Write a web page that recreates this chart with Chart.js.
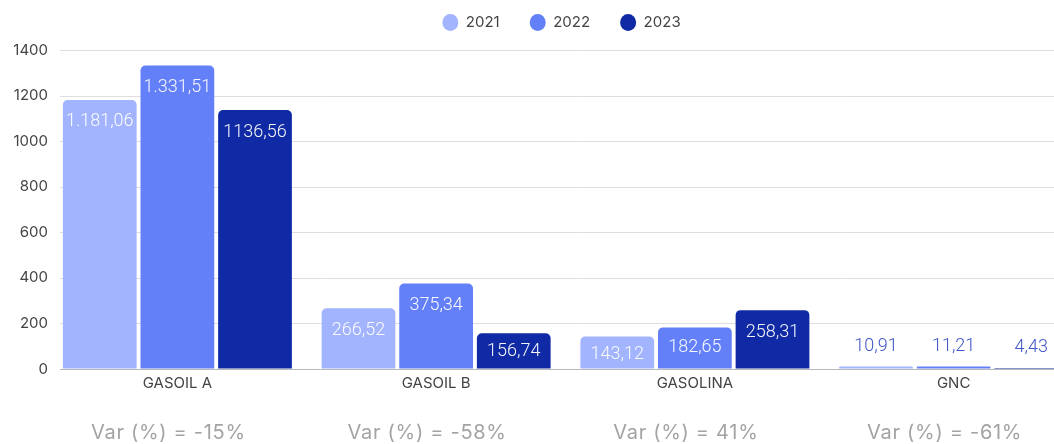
<!DOCTYPE html>
<html lang="es">
<head>
<meta charset="UTF-8" />
<title>Consumo por combustible</title>
<script src="https://cdn.jsdelivr.net/npm/chart.js"></script>
<style>
  html, body { margin: 0; padding: 0; background: #fff; overflow: hidden; }
  #wrap { width: 1100px; height: 444px; }
</style>
</head>
<body>
<div id="wrap"><canvas id="chart"></canvas></div>
<script>
// datos
const categories = ["GASOIL A", "GASOIL B", "GASOLINA", "GNC"];
const years = ["2021", "2022", "2023"];
const values2021 = [1181.06, 266.52, 143.12, 10.91];
const values2022 = [1331.51, 375.34, 182.65, 11.21];
const values2023 = [1136.56, 156.74, 258.31, 4.43];
const text2021 = ["1.181,06", "266,52", "143,12", "10,91"];
const text2022 = ["1.331,51", "375,34", "182,65", "11,21"];
const text2023 = ["1136,56", "156,74", "258,31", "4,43"];
const varLabels = ["Var (%) = -15%", "Var (%) = -58%", "Var (%) = 41%", "Var (%) = -61%"];
const yTicks = [0, 200, 400, 600, 800, 1000, 1200, 1400];

const colors = ["#a3b4fe", "#6380f9", "#0f2aa4"];
const FONT = "Inter, 'Noto Sans', sans-serif";

// a bit more room under the legend, and nudge it right
const legendTweak = {
  id: "legendTweak",
  beforeInit(chart) {
    const fit = chart.legend.fit;
    chart.legend.fit = function () {
      fit.call(this);
      this.height += 10;
    };
  },
  afterLayout(chart) {
    chart.legend.left += 20;
    chart.legend.right += 20;
  }
};

// gridlines start a bit right of the tick labels
const gridPlugin = {
  id: "grid",
  beforeDatasetsDraw(chart) {
    const { ctx, chartArea, scales } = chart;
    ctx.save();
    yTicks.forEach(v => {
      const y = Math.round(scales.y.getPixelForValue(v)) + 0.5;
      ctx.strokeStyle = v === 0 ? "#b8b8b8" : "#dedede";
      ctx.lineWidth = 1;
      ctx.beginPath();
      ctx.moveTo(60, y);
      ctx.lineTo(chartArea.right + 20, y);
      ctx.stroke();
    });
    ctx.restore();
  }
};

// value labels inside bars (or above the tiny ones)
const labelPlugin = {
  id: "valueLabels",
  afterDatasetsDraw(chart) {
    const { ctx } = chart;
    const texts = [text2021, text2022, text2023];
    ctx.save();
    ctx.font = "300 18px Roboto, " + FONT;
    ctx.textAlign = "center";
    ctx.textBaseline = "middle";
    chart.data.datasets.forEach((ds, i) => {
      chart.getDatasetMeta(i).data.forEach((bar, j) => {
        const h = bar.base - bar.y;
        if (h > 20) {
          ctx.fillStyle = "rgba(255,255,255,0.95)";
          ctx.fillText(texts[i][j], bar.x, bar.y + Math.min(22, Math.max(h / 2, 18)));
        } else {
          ctx.fillStyle = "#3f55c9";
          ctx.fillText(texts[i][j], bar.x, bar.y - 20);
        }
      });
    });
    ctx.restore();
  }
};

// variation row under the chart
const varPlugin = {
  id: "varRow",
  afterDraw(chart) {
    const { ctx, scales } = chart;
    ctx.save();
    ctx.font = "20px " + FONT;
    ctx.letterSpacing = "0.7px";
    ctx.fillStyle = "#a3a3a3";
    ctx.textAlign = "center";
    ctx.textBaseline = "middle";
    varLabels.forEach((t, i) => {
      ctx.fillText(t, scales.x.getPixelForValue(i) - 9, 433);
    });
    ctx.restore();
  }
};

new Chart(document.getElementById("chart"), {
  type: "bar",
  data: {
    labels: categories,
    datasets: years.map((y, i) => ({
      label: y,
      data: [values2021, values2022, values2023][i],
      backgroundColor: colors[i],
      borderRadius: { topLeft: 5, topRight: 5 },
      borderSkipped: "bottom",
      categoryPercentage: 0.9,
      barPercentage: 0.95
    }))
  },
  options: {
    responsive: true,
    maintainAspectRatio: false,
    animation: false,
    layout: { padding: { left: 0, right: 17, top: -15, bottom: 47 } },
    plugins: {
      legend: {
        position: "top",
        labels: {
          usePointStyle: true,
          pointStyle: "circle",
          pointStyleWidth: 16,
          boxWidth: 12,
          boxHeight: 12,
          padding: 30,
          color: "#444",
          font: { family: FONT, size: 15 }
        }
      },
      tooltip: { enabled: false }
    },
    scales: {
      x: {
        grid: { display: false, drawTicks: false, tickLength: 0 },
        border: { display: false },
        ticks: { color: "#444", font: { family: FONT, size: 15 }, padding: 5 }
      },
      y: {
        min: 0,
        max: 1400,
        afterBuildTicks(axis) { axis.ticks = yTicks.map(v => ({ value: v })); },
        grid: { drawOnChartArea: false, drawTicks: false },
        border: { display: false },
        ticks: {
          color: "#444",
          font: { family: FONT, size: 15 },
          padding: 0,
          callback: v => String(v)
        },
        afterFit(axis) { axis.width = 48; }
      }
    }
  },
  plugins: [legendTweak, gridPlugin, labelPlugin, varPlugin]
});
</script>
</body>
</html>
